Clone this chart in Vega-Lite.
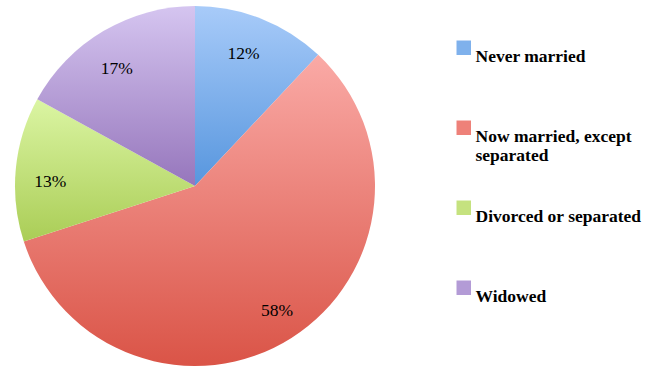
{
  "$schema": "https://vega.github.io/schema/vega-lite/v6.json",
  "width": 390,
  "height": 372,
  "padding": 0,
  "autosize": {"type": "pad"},
  "background": "white",
  "view": {"stroke": null},
  "data": {"values": [
    {"status": "Never married", "share": 0.12},
    {"status": "Now married, except separated", "share": 0.58},
    {"status": "Divorced or separated", "share": 0.13},
    {"status": "Widowed", "share": 0.17}
  ]},
  "transform": [
    {"stack": "share", "groupby": [], "as": ["t0", "t1"]},
    {"calculate": "(datum.t0 + datum.t1) / 2", "as": "tmid"}
  ],
  "layer": [
    {
      "mark": {"type": "arc", "outerRadius": 180, "strokeWidth": 0, "opacity": 0},
      "encoding": {
        "theta": {"field": "t0", "type": "quantitative", "scale": {"domain": [0, 1]}},
        "theta2": {"field": "t1"},
        "color": {
          "field": "status",
          "type": "nominal",
          "sort": ["Never married", "Now married, except separated", "Divorced or separated", "Widowed"],
          "scale": {
            "domain": ["Never married", "Now married, except separated", "Divorced or separated", "Widowed"],
            "range": ["#7fb1ec", "#ee8179", "#c5e27f", "#b39bd6"]
          },
          "legend": {
            "title": null,
            "orient": "none",
            "legendX": 455,
            "legendY": 39,
            "symbolType": "square",
            "symbolSize": 210,
            "symbolStrokeWidth": 0,
            "symbolOpacity": 1,
            "labelFont": "Liberation Serif",
            "labelFontSize": 17.5,
            "labelFontWeight": "bold",
            "labelColor": "black",
            "labelBaseline": "top",
            "labelLimit": 300,
            "labelOffset": 3,
            "labelLineHeight": 16,
            "rowPadding": 34,
            "gridAlign": "all",
            "labelExpr": "datum.label == 'Now married, except separated' ? ['Now married, except', 'separated'] : datum.label"
          }
        }
      }
    },
    {
      "transform": [{"filter": "datum.status === 'Never married'"}],
      "mark": {"type": "arc", "outerRadius": 180, "strokeWidth": 0,
        "fill": {"gradient": "linear", "x1": 0, "y1": 0, "x2": 0, "y2": 1, "stops": [{"offset": 0, "color": "#a8cbf9"}, {"offset": 1, "color": "#5796de"}]}},
      "encoding": {"theta": {"field": "t0", "type": "quantitative"}, "theta2": {"field": "t1"}}
    },
    {
      "transform": [{"filter": "datum.status === 'Now married, except separated'"}],
      "mark": {"type": "arc", "outerRadius": 180, "strokeWidth": 0,
        "fill": {"gradient": "linear", "x1": 0, "y1": 0, "x2": 0, "y2": 1, "stops": [{"offset": 0, "color": "#faaaa6"}, {"offset": 1, "color": "#da5447"}]}},
      "encoding": {"theta": {"field": "t0", "type": "quantitative"}, "theta2": {"field": "t1"}}
    },
    {
      "transform": [{"filter": "datum.status === 'Divorced or separated'"}],
      "mark": {"type": "arc", "outerRadius": 180, "strokeWidth": 0,
        "fill": {"gradient": "linear", "x1": 0, "y1": 0, "x2": 0, "y2": 1, "stops": [{"offset": 0, "color": "#dbf5a3"}, {"offset": 1, "color": "#aacd56"}]}},
      "encoding": {"theta": {"field": "t0", "type": "quantitative"}, "theta2": {"field": "t1"}}
    },
    {
      "transform": [{"filter": "datum.status === 'Widowed'"}],
      "mark": {"type": "arc", "outerRadius": 180, "strokeWidth": 0,
        "fill": {"gradient": "linear", "x1": 0, "y1": 0, "x2": 0, "y2": 1, "stops": [{"offset": 0, "color": "#d5c5f0"}, {"offset": 1, "color": "#9676bc"}]}},
      "encoding": {"theta": {"field": "t0", "type": "quantitative"}, "theta2": {"field": "t1"}}
    },
    {
      "mark": {"type": "text", "radius": 145, "thetaOffset": -0.035, "dy": 5, "font": "Liberation Serif", "fontSize": 17.5, "color": "black"},
      "encoding": {
        "theta": {"field": "tmid", "type": "quantitative"},
        "text": {"field": "share", "type": "quantitative", "format": ".0%"}
      }
    }
  ]
}
